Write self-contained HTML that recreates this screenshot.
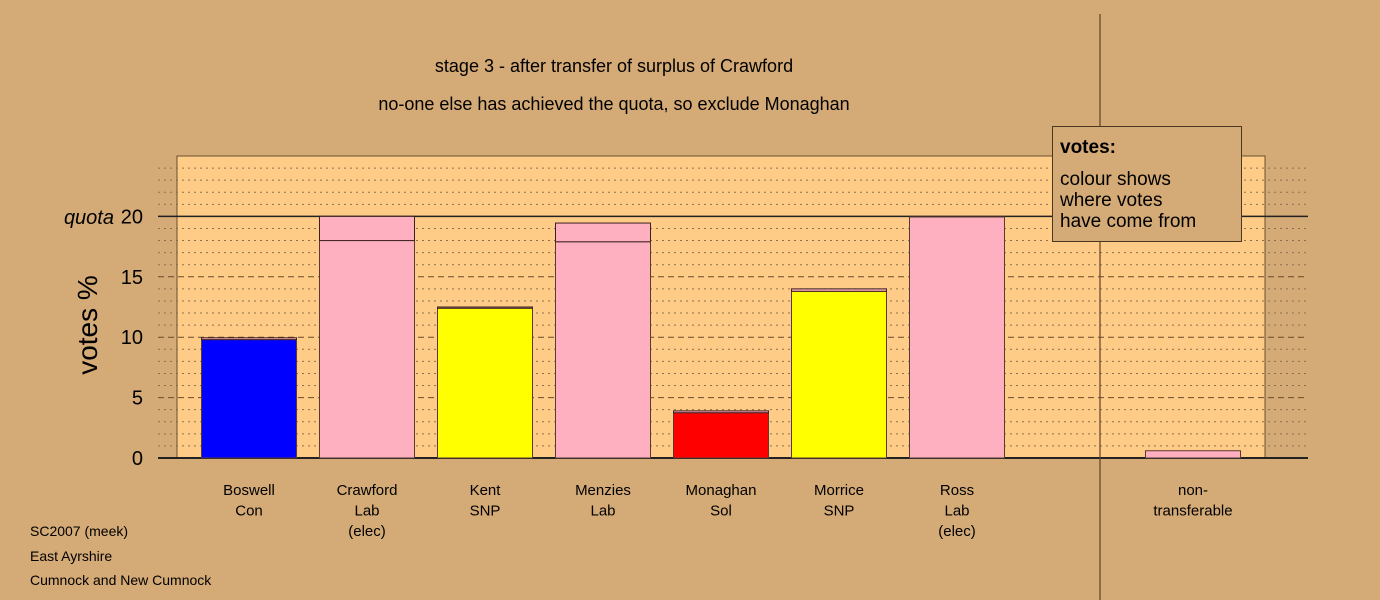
<!DOCTYPE html>
<html><head><meta charset="utf-8"><style>
html,body{margin:0;padding:0;background:#d4aa76;}
svg{display:block;font-family:"Liberation Sans",sans-serif;}
</style></head><body>
<svg id="chart" width="1380" height="600" viewBox="0 0 1380 600">
<rect x="0" y="0" width="1380" height="600" fill="#d4aa76"/>
<text x="614" y="72" font-size="18" text-anchor="middle">stage 3 - after transfer of surplus of Crawford</text>
<text x="614" y="110" font-size="18" text-anchor="middle">no-one else has achieved the quota, so exclude Monaghan</text>
<rect x="177" y="156" width="1088" height="302" fill="#ffcc88" stroke="#6a5030" stroke-width="1"/>
<g id="grid"></g>
<g id="bars"></g>
<g id="labels"></g>
<line x1="1100" y1="14" x2="1100" y2="600" stroke="#5a4428" stroke-width="1.2"/>
<text x="114" y="224" font-size="20" font-style="italic" text-anchor="end">quota</text>
<text transform="translate(97,325) rotate(-90)" font-size="28" text-anchor="middle">votes %</text>
<g>
<rect x="1052.5" y="126.5" width="189" height="115" fill="#d4aa76" stroke="#4a3820" stroke-width="1"/>
<text x="1060" y="153" font-size="19" font-weight="bold">votes:</text>
<text x="1060" y="185" font-size="19">colour shows</text>
<text x="1060" y="206" font-size="19">where votes</text>
<text x="1060" y="227" font-size="19">have come from</text>
</g>
<text x="30" y="536" font-size="14">SC2007 (meek)</text>
<text x="30" y="561" font-size="14">East Ayrshire</text>
<text x="30" y="585" font-size="14">Cumnock and New Cumnock</text>
</svg>
<script>
const categories = [["Boswell","Con"],["Crawford","Lab","(elec)"],["Kent","SNP"],["Menzies","Lab"],["Monaghan","Sol"],["Morrice","SNP"],["Ross","Lab","(elec)"],[],["non-","transferable"]];
const baseValues = [9.8, 18.0, 12.4, 17.9, 3.75, 13.8, 19.95, 0, 0.6];
const transferValues = [0.15, 2.0, 0.1, 1.55, 0.15, 0.2, 0, 0, 0];
const baseColors = ["#0000ff","#ffb0c0","#ffff00","#ffb0c0","#ff0000","#ffff00","#ffb0c0","#ffb0c0","#ffb0c0"];
const transferColor = "#ffb0c0";
const yTicks = [0,5,10,15,20];
const quota = 20;
const yMax = 25;

const NS = "http://www.w3.org/2000/svg";
const y0 = 458, pxPerUnit = 12.08;
function yScale(v){ return y0 - v*pxPerUnit; }
function xLeft(i){ return 201 + i*118; }
const barW = 95;
function mk(tag, attrs, parent){ const e=document.createElementNS(NS,tag); for(const k in attrs) e.setAttribute(k,attrs[k]); parent.appendChild(e); return e; }

const grid = document.getElementById('grid');
for (let v=1; v<yMax; v++){
  const y = yScale(v);
  const major = v%5===0;
  const l = mk('line',{x1:158,x2:1308,y1:y,y2:y,stroke:major?'#6a4a28':'#8a7050','stroke-width':1,'stroke-dasharray':major?'6,4':'2,4'},grid);
  
  
}
for (const t of yTicks){
  const tx = mk('text',{x:143,y:yScale(t)+7,'font-size':20,'text-anchor':'end'},grid);
  tx.textContent = t;
  
  
}
const ql = mk('line',{x1:158,x2:1308,y1:yScale(quota),y2:yScale(quota),stroke:'#222','stroke-width':1.5},grid);


const ax = mk('line',{x1:158,x2:1308,y1:y0,y2:y0,stroke:'#222','stroke-width':2},grid);



const bars = document.getElementById('bars');
const labels = document.getElementById('labels');
categories.forEach((c,i)=>{
  const x = xLeft(i);
  const b = baseValues[i], t = transferValues[i];
  if (b > 0){
    const r = mk('rect',{x:x+0.5,y:yScale(b),width:barW,height:y0-yScale(b),fill:baseColors[i],stroke:'#5a3a30','stroke-width':1},bars);
    
    
  }
  if (t > 0){
    const r2 = mk('rect',{x:x+0.5,y:yScale(b+t),width:barW,height:y0-yScale(t),fill:transferColor,stroke:'#3a2020','stroke-width':1},bars);
    
    
  }
  c.forEach((line,j)=>{
    const tx = mk('text',{x:x+barW/2+0.5,y:495+j*20.5,'font-size':15,'text-anchor':'middle'},labels);
    tx.textContent = line;
    
    
  });
});
</script>
</body></html>
